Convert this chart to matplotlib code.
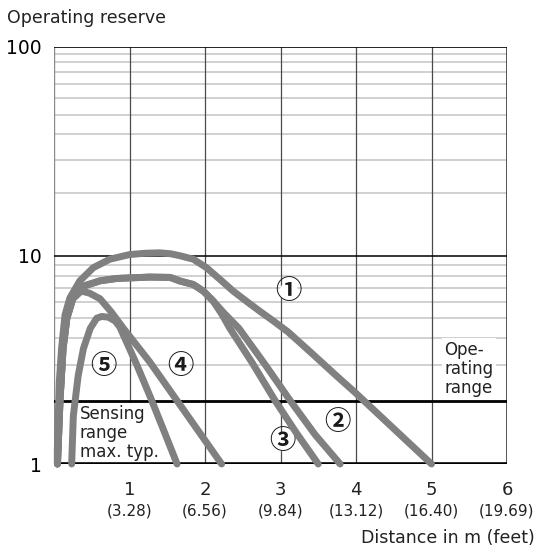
import matplotlib
matplotlib.use('Agg')
import matplotlib.pyplot as plt
import matplotlib.ticker as mticker

# curve data (distance in m, operating reserve)
c1_x = [0.044, 0.044, 0.07, 0.10, 0.146, 0.21, 0.34, 0.52, 0.74, 1.0, 1.2, 1.4, 1.54, 1.67, 1.845, 2.02, 2.20, 2.375, 2.55, 2.73, 2.90, 3.10, 3.39, 3.74, 3.99, 5.0]
c1_y = [1.0, 1.17, 2.47, 3.58, 5.19, 6.25, 7.54, 8.74, 9.6, 10.1, 10.25, 10.3, 10.2, 9.97, 9.6, 8.74, 7.67, 6.74, 6.03, 5.39, 4.87, 4.3, 3.46, 2.65, 2.2, 1.0]

c2_x = [0.046, 0.08, 0.12, 0.17, 0.25, 0.39, 0.61, 0.83, 1.27, 1.54, 1.67, 1.845, 1.98, 2.10, 2.25, 2.45, 2.79, 3.13, 3.46, 3.79]
c2_y = [1.0, 2.04, 3.58, 5.0, 6.25, 7.13, 7.56, 7.76, 7.88, 7.85, 7.54, 7.26, 6.74, 6.1, 5.3, 4.47, 3.02, 2.01, 1.38, 1.0]

c3_x = [0.046, 0.08, 0.12, 0.17, 0.25, 0.39, 0.61, 0.83, 1.27, 1.54, 1.67, 1.845, 1.98, 2.11, 2.22, 2.33, 2.62, 2.93, 3.21, 3.50]
c3_y = [1.0, 2.04, 3.58, 5.0, 6.25, 7.13, 7.56, 7.76, 7.88, 7.85, 7.54, 7.26, 6.74, 6.03, 5.25, 4.47, 3.08, 2.01, 1.41, 1.0]

c4_x = [0.046, 0.08, 0.12, 0.17, 0.25, 0.36, 0.47, 0.61, 0.76, 0.92, 1.27, 1.71, 2.22]
c4_y = [1.0, 2.04, 3.58, 5.0, 6.2, 6.75, 6.6, 6.2, 5.35, 4.47, 3.08, 1.83, 1.0]

c5_x = [0.234, 0.256, 0.32, 0.39, 0.48, 0.565, 0.63, 0.72, 0.81, 0.87, 0.92, 1.10, 1.27, 1.45, 1.63]
c5_y = [1.0, 1.70, 2.65, 3.58, 4.47, 5.0, 5.1, 5.06, 4.85, 4.55, 4.15, 2.97, 2.12, 1.46, 1.0]

curves = [(c1_x, c1_y), (c2_x, c2_y), (c3_x, c3_y), (c4_x, c4_y), (c5_x, c5_y)]

# curve number labels
label_text = ['\u2460', '\u2461', '\u2462', '\u2463', '\u2464']
label_x = [3.11, 3.76, 3.02, 1.67, 0.66]
label_y = [6.69, 1.58, 1.28, 2.95, 2.95]

# axis ticks
x_ticks = [1, 2, 3, 4, 5, 6]
x_feet = ['(3.28)', '(6.56)', '(9.84)', '(13.12)', '(16.40)', '(19.69)']
y_ticks = [1, 10, 100]

# gridlines as drawn in the reference
grid_lower = [3, 4, 5, 6, 7, 8, 9]
grid_upper = [20, 28.8, 38.3, 47.4, 56.9, 66.5, 76.2, 85.2, 92.9]

fig = plt.figure(figsize=(5.39, 5.54), dpi=100)
ax = fig.add_axes([54/539, 90/554, 453/539, 417/554])
ax.set_yscale('log')
ax.set_xlim(0, 6)
ax.set_ylim(1, 100)
for s in ax.spines.values():
    s.set_visible(False)

ax.set_xticks([])
ax.set_yticks(y_ticks, [str(v) for v in y_ticks])
ax.yaxis.set_minor_locator(mticker.NullLocator())
ax.tick_params(axis='y', length=0, pad=9, labelsize=13.5)

# light horizontal grid
for v in grid_lower + grid_upper:
    ax.axhline(v, color='#c4c4c4', lw=1.1, zorder=1)

# vertical lines
ax.axvline(0, color='#8a8a8a', lw=1.0, zorder=1)
for v in x_ticks[:-1]:
    ax.axvline(v, color='#4a4a4a', lw=0.9, zorder=1)
ax.axvline(6, color='#3a3a3a', lw=1.2, zorder=1)

# boxed texts
ax.text(5.17, 3.88, 'Ope-\nrating\nrange', fontsize=12, va='top', ha='left',
        linespacing=1.05, color='#222222',
        bbox=dict(fc='white', ec='none', pad=2), zorder=2)
ax.text(0.344, 1.91, 'Sensing\nrange\nmax. typ.', fontsize=12, va='top', ha='left',
        linespacing=1.05, color='#222222',
        bbox=dict(fc='white', ec='none', pad=2), zorder=2)

# black horizontal lines
ax.axhline(100, color='black', lw=1.2, zorder=3)
ax.axhline(10, color='black', lw=1.1, zorder=3)
ax.axhline(2, color='black', lw=2.0, zorder=3)
ax.axhline(1, color='black', lw=2.6, zorder=3)

for lx, ly, lt in zip(label_x, label_y, label_text):
    ax.text(lx, ly, lt, fontsize=19, ha='center', va='center', fontweight='bold',
            family=['Noto Sans CJK JP', 'DejaVu Sans'], color='#1a1a1a',
            bbox=dict(boxstyle='circle,pad=-0.15', fc='white', ec='none'), zorder=4)

for cx, cy in curves:
    ax.plot(cx, cy, color='#808080', lw=5, solid_capstyle='round',
            solid_joinstyle='round', zorder=5, clip_on=False)

# x tick labels: metres and feet
tr = ax.get_xaxis_transform()
for xt, ft in zip(x_ticks, x_feet):
    ax.text(xt, -0.062, str(xt), fontsize=13, ha='center', va='center', transform=tr, color='#222222')
    ax.text(xt, -0.113, ft, fontsize=11, ha='center', va='center', transform=tr, color='#222222')

fig.text(7/539, 1 - 22.7/554, 'Operating reserve', fontsize=12.5, ha='left', va='baseline', color='#222222')
fig.text(535/539, 1 - 538/554, 'Distance in m (feet)', fontsize=12.5, ha='right', va='center', color='#222222')

fig.savefig('out.png', dpi=100)
